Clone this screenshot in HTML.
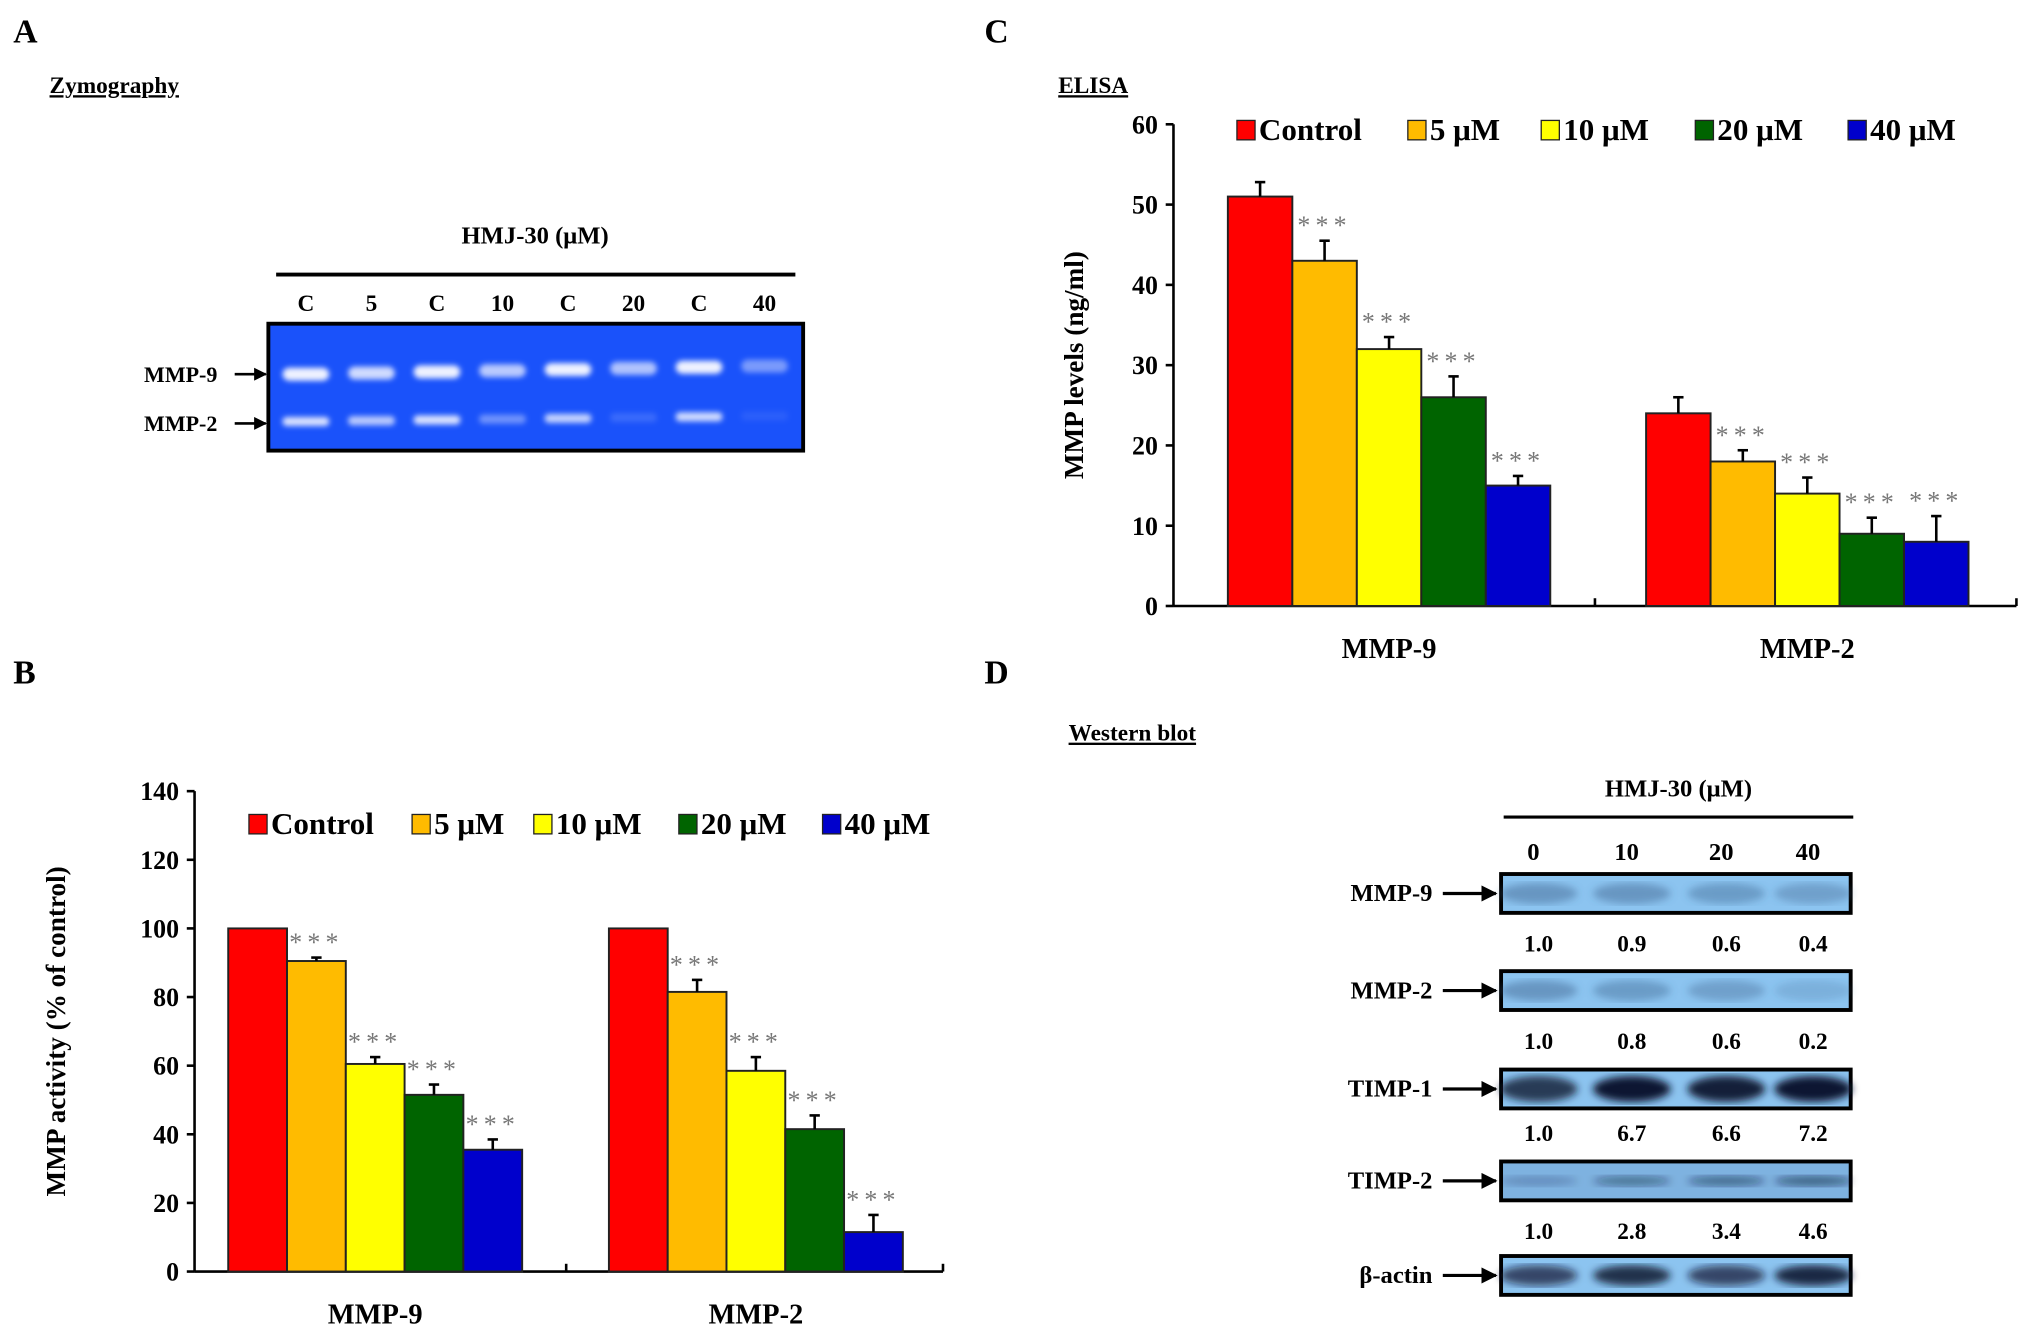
<!DOCTYPE html>
<html><head><meta charset="utf-8"><style>
html,body{margin:0;padding:0;background:#fff}
svg{display:block;font-family:"Liberation Serif",serif;font-weight:bold}
</style></head><body>
<svg id="fig" width="2031" height="1335" viewBox="0 0 1568 1031" xmlns="http://www.w3.org/2000/svg">
<defs>
<filter id="blur2"><feGaussianBlur stdDeviation="2"/></filter>
<filter id="blur3"><feGaussianBlur stdDeviation="3"/></filter>
<marker id="arr" viewBox="0 0 10 10" refX="9" refY="5" markerWidth="5" markerHeight="5" orient="auto"><path d="M0,0L10,5L0,10z" fill="#000"/></marker>
</defs>
<!-- Panel A -->
<text x="10" y="33" font-size="26">A</text>
<text x="38" y="72" font-size="18" text-decoration="underline">Zymography</text>
<text x="413" y="188" font-size="19" text-anchor="middle">HMJ-30 (μM)</text>
<line x1="213" y1="212" x2="614" y2="212" stroke="#000" stroke-width="3"/>
<g id="zymoLanes" font-size="18" text-anchor="middle"></g>
<rect x="207" y="250" width="413" height="98" fill="#1a52fa" stroke="#000" stroke-width="3"/>
<g id="zymoBands" filter="url(#blur2)"></g>
<text x="111" y="295" font-size="17">MMP-9</text>
<line x1="181" y1="289" x2="205" y2="289" stroke="#000" stroke-width="2" marker-end="url(#arr)"/>
<text x="111" y="333" font-size="17">MMP-2</text>
<line x1="181" y1="327" x2="205" y2="327" stroke="#000" stroke-width="2" marker-end="url(#arr)"/>

<!-- Panel C -->
<text x="760" y="33" font-size="26">C</text>
<text x="817" y="72" font-size="18" text-decoration="underline">ELISA</text>
<g id="chartC"></g>

<!-- Panel B -->
<text x="10" y="528" font-size="26">B</text>
<g id="chartB"></g>

<!-- Panel D -->
<text x="760" y="528" font-size="26">D</text>
<text x="825" y="572" font-size="18" text-decoration="underline">Western blot</text>
<text x="1296" y="615" font-size="19" text-anchor="middle">HMJ-30 (μM)</text>
<line x1="1161" y1="631" x2="1431" y2="631" stroke="#000" stroke-width="2.5"/>
<g id="blots"></g>
</svg>
<script>
const NS='http://www.w3.org/2000/svg';
function mk(parent,tag,attrs,text){const e=document.createElementNS(NS,tag);for(const k in attrs)e.setAttribute(k,attrs[k]);if(text!==undefined)e.textContent=text;parent.appendChild(e);return e;}

// ---- data ----
const seriesNames=['Control','5 μM','10 μM','20 μM','40 μM'];
const seriesColors=['#ff0000','#ffbb00','#ffff00','#006400','#0000cc'];
const categories=['MMP-9','MMP-2'];
const elisaMMP9=[51,43,32,26,15];
const elisaMMP2=[24,18,14,9,8];
const elisaErr9=[1.8,2.5,1.5,2.6,1.2];
const elisaErr2=[2,1.4,2,2,3.2];
const elisaSig=['','***','***','***','***'];
const elisaTicks=[0,10,20,30,40,50,60];
const actMMP9=[100,90.5,60.5,51.5,35.5];
const actMMP2=[100,81.5,58.5,41.5,11.5];
const actErr9=[0,1,2,3,3];
const actErr2=[0,3.5,4,4,5];
const actSig=['','***','***','***','***'];
const actTicks=[0,20,40,60,80,100,120,140];
const zymoLaneLabels=['C','5','C','10','C','20','C','40'];
const zymoMMP9=[1,0.85,1,0.75,1,0.7,1,0.45];
const zymoMMP2=[0.9,0.75,0.9,0.4,0.8,0.15,0.85,0.08];
const blotLanes=['0','10','20','40'];
const blotProteins=['MMP-9','MMP-2','TIMP-1','TIMP-2','β-actin'];
const blotRatios=[['1.0','0.9','0.6','0.4'],['1.0','0.8','0.6','0.2'],['1.0','6.7','6.6','7.2'],['1.0','2.8','3.4','4.6']];
const blotIntensity=[[0.45,0.45,0.4,0.35],[0.45,0.4,0.35,0.2],[0.8,1,0.95,1],[0.2,0.4,0.45,0.5],[0.7,0.85,0.7,0.9]];

// ---- zymography ----
const zl=document.getElementById('zymoLanes'),zb=document.getElementById('zymoBands');
zymoLaneLabels.forEach((l,i)=>{const cx=236+i*50.6;
 const t=mk(zl,'text',{x:cx,y:240},l);
 
 
 const b9=mk(zb,'rect',{x:cx-18,y:284-i*0.9,width:36,height:10,rx:5,fill:'#eef2ff','fill-opacity':zymoMMP9[i]});
 
 
 const b2=mk(zb,'rect',{x:cx-18,y:322-i*0.6,width:36,height:7,rx:3,fill:'#eef2ff','fill-opacity':zymoMMP2[i]});
 
 
});

// ---- bar charts ----
function barChart(g,o){
 const y=v=>o.y0-(v-o.vmin)/(o.vmax-o.vmin)*(o.y0-o.ytop);
 mk(g,'line',{x1:o.x0,y1:o.ytop,x2:o.x0,y2:o.y0,stroke:'#000','stroke-width':2});
 mk(g,'line',{x1:o.x0,y1:o.y0,x2:o.x1,y2:o.y0,stroke:'#000','stroke-width':2});
 mk(g,'line',{x1:(o.x0+o.x1)/2+o.midOff,y1:o.y0,x2:(o.x0+o.x1)/2+o.midOff,y2:o.y0-6,stroke:'#000','stroke-width':2});
 mk(g,'line',{x1:o.x1,y1:o.y0,x2:o.x1,y2:o.y0-6,stroke:'#000','stroke-width':2});
 o.ticks.forEach(t=>{
  mk(g,'line',{x1:o.x0-6,y1:y(t),x2:o.x0,y2:y(t),stroke:'#000','stroke-width':2});
  const tl=mk(g,'text',{x:o.x0-12,y:y(t)+7,'font-size':20,'text-anchor':'end'},t);
  
  
 });
 const yt=mk(g,'text',{x:0,y:0,'font-size':21,'text-anchor':'middle',transform:`translate(${o.ylx},${(o.ytop+o.y0)/2}) rotate(-90)`},o.ylabel);
 
 
 o.groups.forEach((vals,gi)=>{
  const gx=o.gStart[gi];
  const cl=mk(g,'text',{x:gx+o.bw*2.5,y:o.y0+40,'font-size':22,'text-anchor':'middle'},categories[gi]);
  
  
  vals.forEach((v,i)=>{
   const bx=gx+i*o.bw;
   const r=mk(g,'rect',{x:bx,y:y(v),width:o.bw,height:o.y0-y(v),fill:seriesColors[i],stroke:'#222','stroke-width':1.5});
   
   
   const e=o.errs[gi][i],cx=bx+o.bw/2;
   if(e>0){
    mk(g,'line',{x1:cx,y1:y(v),x2:cx,y2:y(v+e),stroke:'#000','stroke-width':2});
    mk(g,'line',{x1:cx-4,y1:y(v+e),x2:cx+4,y2:y(v+e),stroke:'#000','stroke-width':2});
   }
   if(o.sig[i]){
    const s=mk(g,'text',{x:cx,y:y(v+e)-5,'font-size':20,'font-weight':'normal',fill:'#777','text-anchor':'middle','letter-spacing':4},o.sig[i]);
    
    
   }
  });
 });
 seriesNames.forEach((n,i)=>{
  const lx=o.legX[i];
  const sq=mk(g,'rect',{x:lx,y:o.legY-15,width:14,height:15,fill:seriesColors[i],stroke:'#222','stroke-width':1});
  
  
  const lt=mk(g,'text',{x:lx+17,y:o.legY,'font-size':24},n);
  
  
 });
}
barChart(document.getElementById('chartC'),{x0:906,x1:1557,y0:468,ytop:96,vmin:0,vmax:60,ticks:elisaTicks,
 ylabel:'MMP levels (ng/ml)',ylx:836,midOff:0,groups:[elisaMMP9,elisaMMP2],errs:[elisaErr9,elisaErr2],sig:elisaSig,
 gStart:[948,1271],bw:49.8,legX:[955,1087,1190,1309,1427],legY:108});
barChart(document.getElementById('chartB'),{x0:150,x1:728,y0:982,ytop:611,vmin:0,vmax:140,ticks:actTicks,
 ylabel:'MMP activity (% of control)',ylx:50,midOff:-2,groups:[actMMP9,actMMP2],errs:[actErr9,actErr2],sig:actSig,
 gStart:[176,470],bw:45.4,legX:[192,318,412,524,635],legY:644});

// ---- western blots ----
const bl=document.getElementById('blots');
const laneX=[1188,1260,1333,1400];
blotLanes.forEach((l,i)=>{const t=mk(bl,'text',{x:laneX[i]-4,y:664,'font-size':19,'text-anchor':'middle'},l);
 
 });
const rowY=[675,750,826,897,970];
blotProteins.forEach((p,r)=>{
 const y0=rowY[r];
 const box=mk(bl,'rect',{x:1159,y:y0,width:270,height:30,fill:r===3?'#7eb2e0':'#8cc4f0',stroke:'#000','stroke-width':3});
 
 
 const gb=mk(bl,'g',{filter:'url(#blur3)'});
 blotIntensity[r].forEach((a,i)=>{
  const h=r===3?4:(r===2?16:12);
  mk(gb,'ellipse',{cx:laneX[i],cy:y0+15,rx:30,ry:h/2+2,fill:r>=2?'#0a1530':'#3a5f8a','fill-opacity':a});
 });
 const lb=mk(bl,'text',{x:1106,y:y0+21,'font-size':19,'text-anchor':'end'},p);
 
 
 mk(bl,'line',{x1:1114,y1:y0+15,x2:1155,y2:y0+15,stroke:'#000','stroke-width':2.5,'marker-end':'url(#arr)'});
 if(r<4){blotRatios[r].forEach((v,i)=>{
  const t=mk(bl,'text',{x:laneX[i],y:y0+(r===2?55:60),'font-size':18,'text-anchor':'middle'},v);
  
  
 });}
});
</script>
</body></html>
